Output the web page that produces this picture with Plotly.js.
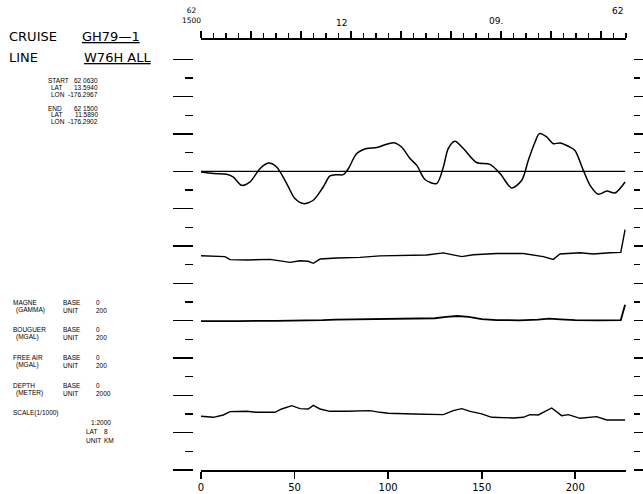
<!DOCTYPE html>
<html><head><meta charset="utf-8">
<script src="https://cdn.plot.ly/plotly-3.0.1.min.js"></script>
<style>html,body{margin:0;padding:0;background:#fff}#chart{width:643px;height:494px}</style>
</head><body><div id="chart"></div>
<script>
// ---------- data (distance in km along line) ----------
const magKm = [0, 6.6, 13.7, 17.3, 21.7, 26.2, 31.5, 36.0, 40.4, 45.8, 50.2, 54.7, 60.0, 65.3, 68.9, 72.5, 76.0, 78.7, 83.2, 88.5, 93.9, 99.2, 103.7, 107.2, 111.7, 115.3, 119.7, 125.9, 129.5, 132.1, 135.7, 140.2, 147.3, 154.4, 159.8, 166.0, 171.4, 174.9, 178.5, 180.8, 184.7, 188.2, 191.8, 196.3, 199.8, 204.3, 207.9, 212.3, 216.8, 221.2, 226.6];
const magGamma = [-4, -12, -16, -31, -75, -57, 14, 44, 23, -66, -146, -173, -155, -84, -25, -18, -18, 14, 95, 122, 127, 145, 152, 130, 68, 32, -44, -66, 23, 122, 161, 122, 47, 37, -12, -89, -48, 59, 157, 202, 184, 148, 152, 134, 112, 5, -75, -123, -106, -116, -57];

const bouKm = [0, 12.8, 15.5, 24.4, 36.9, 42.2, 47.6, 52.9, 57.3, 60.0, 63.6, 72.5, 84.9, 95.6, 109.9, 120.6, 129.5, 139.3, 145.5, 158.0, 172.2, 182.9, 188.2, 191.8, 202.5, 209.6, 218.5, 224.3, 226.6];
const bouMgal = [348, 343, 327, 325, 328, 321, 312, 321, 318, 307, 330, 336, 339, 347, 348, 352, 363, 343, 353, 360, 360, 343, 328, 357, 364, 357, 364, 366, 487];

const faKm = [0, 8, 20, 40, 55, 65, 72, 85, 100, 115, 125, 131, 137, 143, 150, 158, 170, 180, 186, 192, 200, 212, 224.3, 226.6];
const faMgal = [-2, -3, -2, -1, 0, 3, 6, 8, 10, 9, 13, 20, 25, 20, 8, 3, 2, 6, 11, 7, 3, 2, 3, 85];

const depKm = [0, 6.6, 11.9, 15.5, 24.4, 29.8, 39.5, 43.1, 48.5, 52.9, 57.3, 60.0, 63.6, 68.9, 77.9, 90.3, 95.6, 100.1, 113.4, 129.5, 134.8, 139.3, 143.8, 150.0, 155.3, 166.9, 172.2, 175.8, 180.2, 183.8, 187.4, 192.7, 196.3, 202.5, 211.4, 216.8, 226.6];
const depM = [5124, 5178, 5052, 4874, 4856, 4910, 4910, 4731, 4553, 4713, 4731, 4535, 4731, 4856, 4856, 4820, 4910, 4963, 4997, 5034, 4820, 4713, 4856, 4997, 5178, 5213, 5178, 5034, 5052, 4874, 4678, 5088, 5034, 5231, 5142, 5320, 5320];

const distTicks = [0, 50, 100, 150, 200];
const distTickText = ['0', '50', '100', '150', '200'];
const hourRange = [15, 6.5];          // time ruler: 1500 (left) -> 0630 (right)
const magBase = 0, magUnit = 200;
const gravBase = 0, gravUnit = 200;
const depBase = 0, depUnit = 2000;
const MAG_TICK = 8, GRAV_TICK = 4, DEP_TICK = 4, N_TICKS = 11;

// ---------- layout helpers ----------
const L = 193, R = 10, T = 38, B = 24, W = 643, H = 494;
const PW = W - L - R, PH = H - T - B;
const PX = px => (px - L) / PW;
const PY = py => (H - B - py) / PH;
const FONT_BIG = 'DejaVu Sans, sans-serif';
const FONT = 'Liberation Sans, Arial, sans-serif';
const ink = '#000';

function rangeFor(base, unit, zeroTick) {
  return [base - zeroTick * unit, base + (N_TICKS - zeroTick) * unit];
}

const traces = [
  {x: bouKm, y: bouMgal, xaxis: 'x', yaxis: 'y', mode: 'lines', line: {color: ink, width: 1.4}, name: 'BOUGUER'},
  {x: faKm, y: faMgal, xaxis: 'x', yaxis: 'y', mode: 'lines', line: {color: ink, width: 1.8}, name: 'FREE AIR'},
  {x: [magKm[0], magKm[magKm.length - 1]], y: [magBase, magBase], xaxis: 'x', yaxis: 'y2', mode: 'lines', line: {color: ink, width: 1.2}, hoverinfo: 'skip'},
  {x: magKm, y: magGamma, xaxis: 'x', yaxis: 'y2', mode: 'lines', line: {color: ink, width: 1.5, shape: 'spline', smoothing: 0.8}, name: 'MAGNE'},
  {x: depKm, y: depM, xaxis: 'x', yaxis: 'y3', mode: 'lines', line: {color: ink, width: 1.4}, name: 'DEPTH'},
  {x: hourRange, y: [null, null], xaxis: 'x2', yaxis: 'y', mode: 'lines', hoverinfo: 'skip'},
  {x: [0, 1], y: [null, null], xaxis: 'x', yaxis: 'y4', mode: 'lines', hoverinfo: 'skip'},
  {x: [0, 1], y: [null, null], xaxis: 'x', yaxis: 'y5', mode: 'lines', hoverinfo: 'skip'}
];

const ann = [];
function txt(t, px, py, size, anchor, fam) {
  ann.push({text: t, x: PX(px), y: PY(py), xref: 'paper', yref: 'paper', showarrow: false,
    xanchor: anchor || 'left', yanchor: 'middle', align: 'center', font: {family: fam || FONT, size: size, color: ink}});
}
// header
txt('CRUISE', 7, 37, 13, 'left', FONT_BIG); txt('<u>GH79—1</u>', 80, 37, 13, 'left', FONT_BIG);
txt('LINE', 7, 57, 13, 'left', FONT_BIG); txt('<u>W76H ALL</u>', 82, 57, 13, 'left', FONT_BIG);
// start / end block
const S = 6.5;
txt('START', 46, 80, S); txt('62 0630', 100, 80, S, 'right');
txt('LAT', 49, 87, S); txt('13.5940', 100, 87, S, 'right');
txt('LON', 49, 94, S); txt('-176.2967', 100, 94, S, 'right');
txt('END', 46, 108, S); txt('62 1500', 100, 108, S, 'right');
txt('LAT', 49, 115, S); txt('11.5890', 100, 115, S, 'right');
txt('LON', 49, 122, S); txt('-176.2902', 100, 122, S, 'right');
// series legend block
const legRows = [
  ['MAGNE', 'BASE', '0', 302], ['(GAMMA)', 'UNIT', '200', 310],
  ['BOUGUER', 'BASE', '0', 329], ['(MGAL)', 'UNIT', '200', 337],
  ['FREE AIR', 'BASE', '0', 357], ['(MGAL)', 'UNIT', '200', 365],
  ['DEPTH', 'BASE', '0', 385], ['(METER)', 'UNIT', '2000', 393]
];
legRows.forEach((r, i) => {
  txt(r[0], i % 2 ? 14 : 11, r[3], S); txt(r[1], 61, r[3], S); txt(r[2], 94, r[3], S);
});
txt('SCALE(1/1000)', 11, 413, S);
txt('1:2000', 89, 422, S);
txt('LAT', 84, 431, S); txt('8', 110, 431, S, 'right');
txt('UNIT', 84, 440, S); txt('KM', 102, 440, S);
// time ruler labels
txt('62<br>1500', 191, 15, 7.5, 'center', FONT_BIG);
txt('12', 341, 23, 9, 'center', FONT_BIG); txt('09.', 496, 21, 9, 'center', FONT_BIG);
txt('62', 617, 11, 9, 'center', FONT_BIG);

const DOM = [0, PY(59.3)];
const hidden = (rng, extra) => Object.assign({range: rng, autorange: false, visible: false, showgrid: false, zeroline: false, fixedrange: true}, extra || {});
const tickAxis = (side, pos, len, mlen) => ({
  overlaying: 'y', side: side, anchor: 'free', position: pos, range: [0, N_TICKS], autorange: false,
  showgrid: false, zeroline: false, showline: false, showticklabels: false,
  ticks: 'outside', tick0: 0, dtick: 1, ticklen: len, tickwidth: 1.5, tickcolor: ink,
  minor: {ticks: 'outside', tick0: 0, dtick: 0.5, ticklen: mlen, tickwidth: 1.5, tickcolor: ink, showgrid: false},
  fixedrange: true
});

const layout = {
  width: W, height: H, margin: {l: L, r: R, t: T, b: B, pad: 0},
  paper_bgcolor: '#fff', plot_bgcolor: 'rgba(0,0,0,0)', showlegend: false,
  font: {family: FONT, color: ink},
  xaxis: {
    domain: [PX(201), PX(626)], range: [0, (626 - 201) / 1.8715], autorange: false, anchor: 'y',
    showgrid: false, zeroline: false, showline: true, linecolor: ink, linewidth: 1.6,
    ticks: 'outside', ticklen: 7, tickwidth: 1.6, tickcolor: ink,
    tickvals: distTicks, ticktext: distTickText, tickfont: {family: FONT_BIG, size: 10, color: ink},
    fixedrange: true
  },
  xaxis2: {
    overlaying: 'x', side: 'top', anchor: 'free', position: 1, range: hourRange, autorange: false,
    showgrid: false, zeroline: false, showline: true, linecolor: ink, linewidth: 1.6,
    showticklabels: false, ticks: 'outside', tick0: 15, dtick: 1, ticklen: 7, tickwidth: 1.8, tickcolor: ink,
    minor: {ticks: 'outside', dtick: 0.25, ticklen: 5, tickwidth: 1.2, tickcolor: ink, showgrid: false},
    fixedrange: true
  },
  yaxis: Object.assign(hidden(rangeFor(gravBase, gravUnit, GRAV_TICK)), {domain: DOM, visible: true, showline: false, ticks: '', showticklabels: false}),
  yaxis2: hidden(rangeFor(magBase, magUnit, MAG_TICK), {overlaying: 'y'}),
  yaxis3: hidden([depBase + DEP_TICK * depUnit, depBase - (N_TICKS - DEP_TICK) * depUnit], {overlaying: 'y'}),
  yaxis4: tickAxis('left', 0, 20, 8),
  yaxis5: tickAxis('right', 1, 10, 6),
  annotations: ann
};

Plotly.newPlot('chart', traces, layout, {staticPlot: true});
</script></body></html>
